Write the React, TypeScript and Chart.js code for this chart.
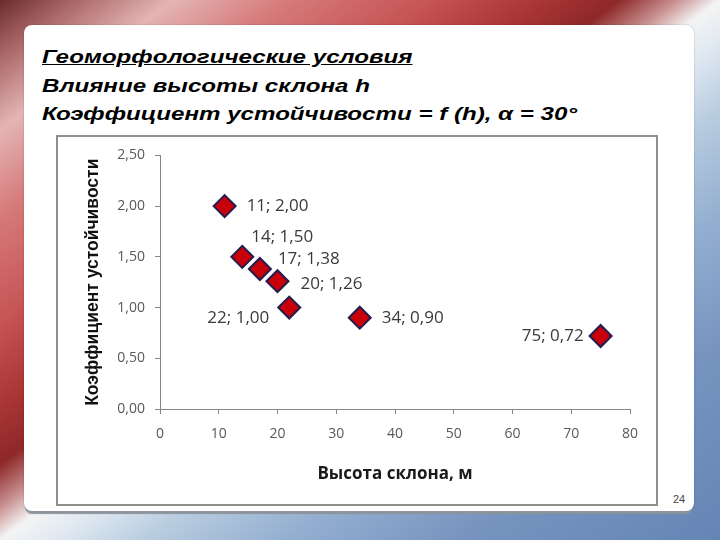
import React, { useEffect, useRef } from "react";
import { Chart, registerables } from "chart.js";

Chart.register(...registerables);

// ---- data ----
const heights = [11, 14, 17, 20, 22, 34, 75];
const coefficients = [2.0, 1.5, 1.38, 1.26, 1.0, 0.9, 0.72];
const labelPlacements = ["right", "aboveRight", "upRight", "rightLow", "belowLeft", "right", "left"];

const titleLines = [
  "Геоморфологические условия",
  "Влияние высоты склона h",
  "Коэффициент устойчивости = f (h), α = 30°",
];
const xAxisTitle = "Высота склона, м";
const yAxisTitle = "Коэффициент устойчивости";
const slideNumber = "24";

const placementStyle: Record<string, { dx: number; dy: number; align: CanvasTextAlign }> = {
  right: { dx: 22, dy: 0, align: "left" },
  rightLow: { dx: 23, dy: 3, align: "left" },
  aboveRight: { dx: 9, dy: -20, align: "left" },
  upRight: { dx: 18, dy: -10, align: "left" },
  belowLeft: { dx: -20, dy: 11, align: "right" },
  left: { dx: -17, dy: 0, align: "right" },
};

const fmt = (v: number) => v.toFixed(2).replace(".", ",");

const dataLabelPlugin = {
  id: "pointLabels",
  afterDatasetsDraw(chart: any) {
    const meta = chart.getDatasetMeta(0);
    const ctx = chart.ctx;
    ctx.save();
    ctx.font = '17px "Open Sans"';
    ctx.fillStyle = "#3a3a3a";
    ctx.textBaseline = "middle";
    meta.data.forEach((pt: any, i: number) => {
      const p = placementStyle[labelPlacements[i]] || placementStyle.right;
      ctx.textAlign = p.align;
      ctx.fillText(`${heights[i]}; ${fmt(coefficients[i])}`, pt.x + p.dx, pt.y + p.dy);
    });
    ctx.restore();
  },
};

function ScatterChart() {
  const ref = useRef<HTMLCanvasElement | null>(null);
  useEffect(() => {
    if (!ref.current) return;
    const chart = new Chart(ref.current, {
      type: "scatter",
      data: {
        datasets: [
          {
            data: heights.map((h, i) => ({ x: h, y: coefficients[i] })),
            pointStyle: "rectRot",
            pointRadius: 11,
            pointHoverRadius: 11,
            backgroundColor: "#c8000a",
            borderColor: "#241c4e",
            borderWidth: 2,
          },
        ],
      },
      options: {
        animation: false,
        responsive: false,
        layout: { padding: { left: 0, top: 18, right: 26, bottom: 0 } },
        plugins: { legend: { display: false }, tooltip: { enabled: false } },
        scales: {
          x: {
            type: "linear",
            min: 0,
            max: 80,
            ticks: {
              stepSize: 10,
              color: "#595959",
              font: { family: "Open Sans", size: 14 },
              padding: 12,
            },
            grid: { drawOnChartArea: false, drawTicks: true, tickLength: 5, color: "#868686" },
            border: { color: "#868686", width: 1 },
            title: {
              display: true,
              text: xAxisTitle,
              color: "#1a1a1a",
              font: { family: "Open Sans", size: 17, weight: "bold" },
              padding: { top: 0, bottom: 20 },
            },
            afterFit: (s: any) => {
              s.height = 95;
            },
          },
          y: {
            type: "linear",
            min: 0,
            max: 2.5,
            ticks: {
              stepSize: 0.5,
              color: "#595959",
              font: { family: "Open Sans", size: 14 },
              padding: 10,
              callback: (v: any) => fmt(Number(v)),
            },
            grid: { drawOnChartArea: false, drawTicks: true, tickLength: 5, color: "#868686" },
            border: { color: "#868686", width: 1 },
            title: {
              display: true,
              text: yAxisTitle,
              color: "#111111",
              font: { family: "Liberation Sans", size: 17.5, weight: "bold" },
              padding: { top: 25, bottom: 0 },
            },
            afterFit: (s: any) => {
              s.width = 102;
            },
          },
        },
      } as any,
      plugins: [dataLabelPlugin],
    });
    return () => chart.destroy();
  }, []);
  return <canvas ref={ref} width={598} height={367} style={{ width: 598, height: 367, display: "block" }} />;
}

export default function App() {
  const bg =
    "linear-gradient(to bottom right, #6a2c2c 0%, #a86464 5%, #e4b4b4 12%, #d67a7a 20%, #c65454 30%, #a83434 38%, #8e2828 43%, #c89090 47%, #f4f4f4 50%, #dfe8f1 54%, #b9cde0 60%, #93aed0 70%, #7694bf 82%, #6585b5 100%)";
  return (
    <div
      style={{
        position: "fixed",
        left: 0,
        top: 0,
        width: 720,
        height: 540,
        overflow: "hidden",
        background: bg,
      }}
    >
      <div
        style={{
          position: "absolute",
          left: 24,
          top: 25,
          width: 670,
          height: 486,
          background: "#ffffff",
          borderRadius: 8,
          boxShadow: "0 4px 1px -1px #8b939c, 0 0 2px rgba(0,0,0,0.25)",
        }}
      />
      {titleLines.map((t, i) => (
        <div
          key={i}
          style={{
            position: "absolute",
            left: 42,
            top: 46 + i * 28.5,
            fontFamily: '"Liberation Sans", Arial, sans-serif',
            fontWeight: "bold",
            fontStyle: "italic",
            fontSize: 18,
            lineHeight: "22px",
            color: "#000",
            whiteSpace: "nowrap",
            textDecoration: i === 0 ? "underline" : "none",
            transform: "scaleX(1.34)",
            transformOrigin: "left center",
          }}
        >
          {t}
        </div>
      ))}
      <div
        style={{
          position: "absolute",
          left: 56,
          top: 135,
          width: 598,
          height: 367,
          border: "2px solid #8f8f8f",
          background: "#fff",
        }}
      >
        <ScatterChart />
      </div>
      <div
        style={{
          position: "absolute",
          left: 673,
          top: 493,
          fontFamily: '"Liberation Sans", Arial, sans-serif',
          fontSize: 11,
          color: "#444",
        }}
      >
        {slideNumber}
      </div>
    </div>
  );
}
